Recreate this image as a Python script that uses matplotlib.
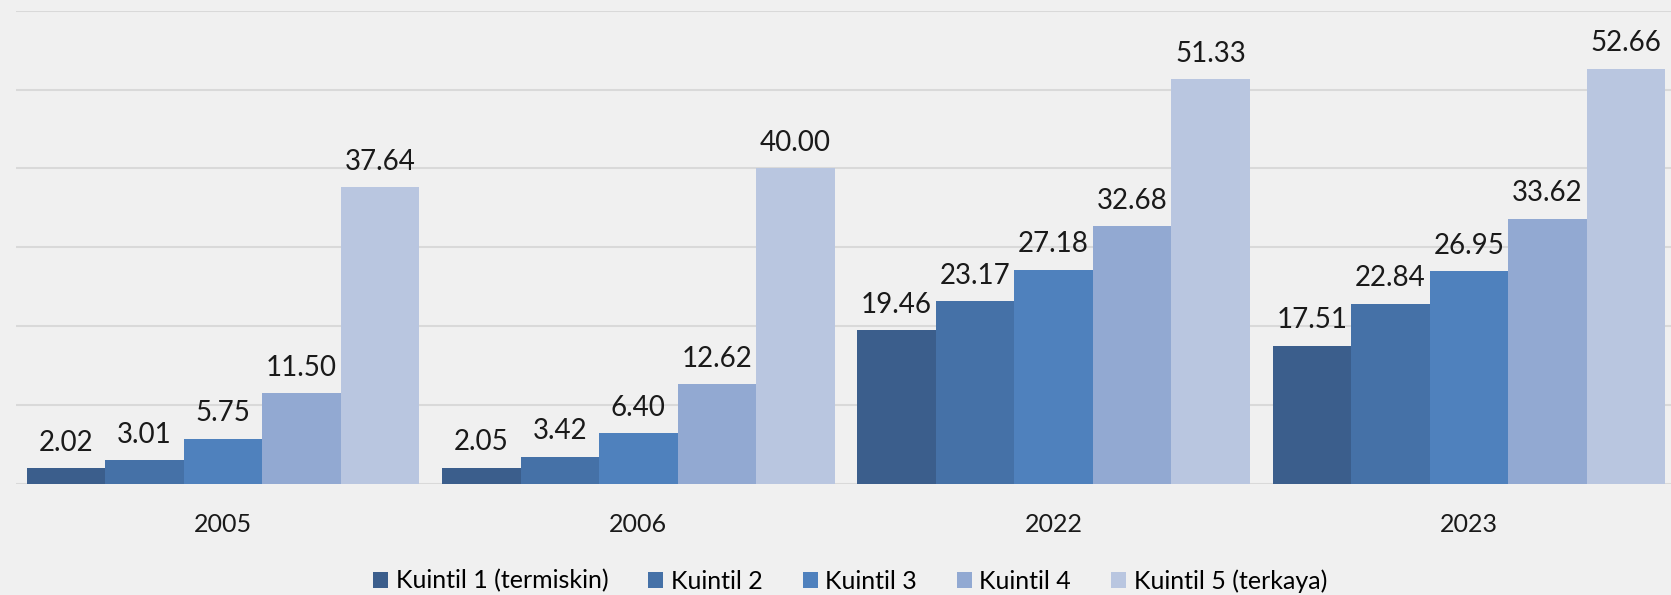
import matplotlib
matplotlib.use("Agg")
import matplotlib.pyplot as plt
import numpy as np

# chart data
years = ["2005", "2006", "2022", "2023"]
series = ["Kuintil 1 (termiskin)", "Kuintil 2", "Kuintil 3", "Kuintil 4", "Kuintil 5 (terkaya)"]
k1 = [2.02, 2.05, 19.46, 17.51]
k2 = [3.01, 3.42, 23.17, 22.84]
k3 = [5.75, 6.40, 27.18, 26.95]
k4 = [11.50, 12.62, 32.68, 33.62]
k5 = [37.64, 40.00, 51.33, 52.66]
values = [k1, k2, k3, k4, k5]

colors = ["#3b5e8c", "#4571a7", "#4f81bd", "#92a9d2", "#b9c6e0"]

plt.rcParams['font.family'] = ['Lato', 'DejaVu Sans']

fig = plt.figure(figsize=(16.71, 5.95), dpi=100)
fig.patch.set_facecolor("#f0f0f0")
ax = fig.add_axes([0.0093, 0.1866, 0.994, 0.7955])
ax.set_facecolor("#f0f0f0")

x = np.arange(len(years))
width = 0.189

for i, (name, vals) in enumerate(zip(series, values)):
    pos = x + (i - 2) * width
    bars = ax.bar(pos, vals, width, color=colors[i], label=name, zorder=3)
    for b, v in zip(bars, vals):
        ax.annotate(f"{v:.2f}", (b.get_x() + b.get_width() / 2, v),
                    xytext=(0, 9), textcoords="offset points",
                    ha="center", va="bottom", fontsize=20, color="#1a1a1a")

ax.set_xlim(-0.5, 3.5)
ax.set_ylim(0, 60)
ax.set_yticks(np.arange(0, 61, 10))
ax.yaxis.grid(True, color="#d9d9d9", linewidth=1.5, zorder=0)
ax.set_yticklabels([])
ax.tick_params(axis="y", length=0)
ax.set_xticks(x)
ax.set_xticklabels(years, fontsize=18, color="#1a1a1a")
ax.tick_params(axis="x", length=0, pad=21)
for s in ax.spines.values():
    s.set_visible(False)

fig.legend(loc="center", bbox_to_anchor=(850 / 1671, 1 - 581 / 595), ncol=5,
           frameon=False, fontsize=18, handlelength=0.6, handleheight=0.6,
           handletextpad=0.3, columnspacing=1.6)

fig.savefig("out.png", dpi=100, facecolor=fig.get_facecolor())
